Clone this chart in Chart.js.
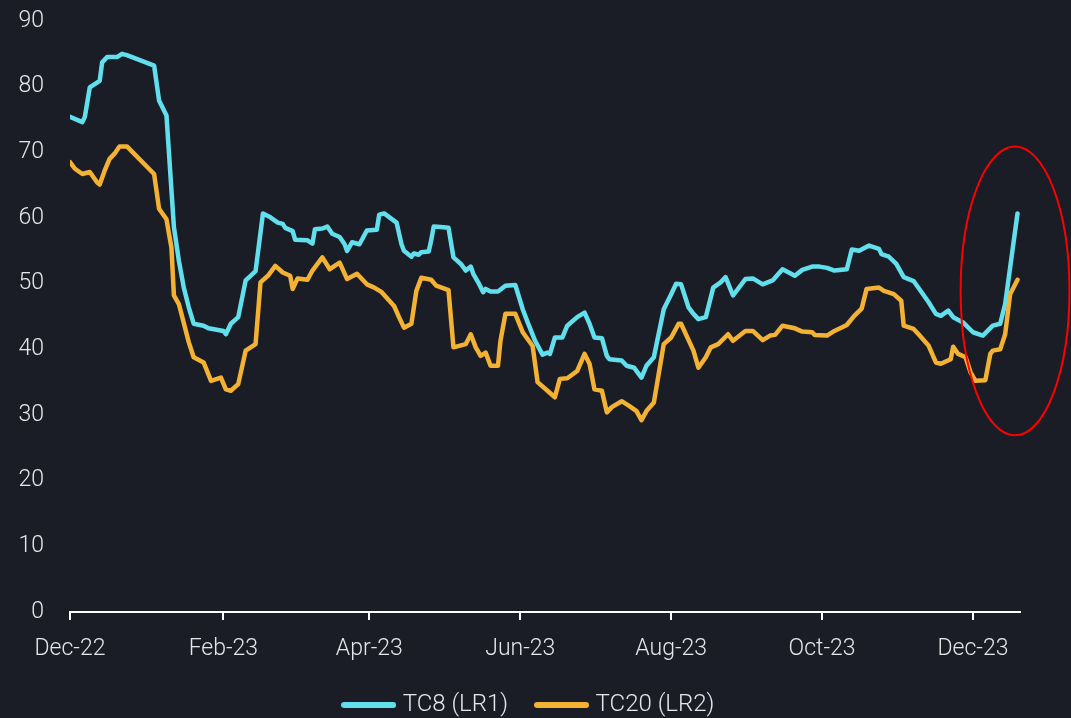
<!DOCTYPE html>
<html>
<head>
<meta charset="utf-8">
<script src="https://cdn.jsdelivr.net/npm/chart.js@4.4.1/dist/chart.umd.min.js"></script>
<style>
  html, body { margin: 0; padding: 0; background: #1a1d26; }
  #wrap { width: 1071px; height: 718px; position: relative; }
</style>
</head>
<body>
<div id="wrap"><canvas id="c" width="1071" height="718"></canvas></div>
<script>
// x values are days since 1 Dec 2022
const baseDate = '2022-12-01';
const xTickDates = ['2022-12-01','2023-02-01','2023-04-01','2023-06-01','2023-08-01','2023-10-01','2023-12-01'];
const xTickLabels = ['Dec-22','Feb-23','Apr-23','Jun-23','Aug-23','Oct-23','Dec-23'];
const yTicks = [0,10,20,30,40,50,60,70,80,90];
const seriesNames = ['TC8 (LR1)', 'TC20 (LR2)'];
const seriesColors = ['#62dfec', '#f4b234'];

const tc8Days = [0,5,6,8,12,13,15,19,21,23,34,36,39,42,44,46,48,50,54,56,62,63,65,68,71,73,75,78,81,84,86,87,90,91,96,98,99,102,104,106,109,111,112,114,117,120,124,125,127,132,134,135,138,139,141,142,145,146,147,151,153,155,158,160,162,163,165,167,168,170,173,176,180,183,185,188,191,193,194,196,199,201,205,208,210,212,215,217,218,223,225,228,230,231,233,236,240,243,245,247,250,252,254,257,260,263,265,268,273,276,280,284,288,293,296,300,303,306,309,314,316,319,323,327,328,331,334,337,341,347,350,352,355,357,361,365,369,373,376,378,383];
const tc8Values = [75.4,74.6,75.4,79.9,80.9,83.7,84.5,84.5,85.0,84.8,83.2,77.9,75.6,58.6,53.5,49.4,46.4,43.9,43.6,43.2,42.8,42.3,43.9,44.9,50.5,51.2,51.9,60.7,60.1,59.3,59.1,58.5,58.0,56.7,56.6,56.1,58.3,58.4,58.7,57.6,57.1,56.0,55.0,56.3,56.0,58.1,58.2,60.5,60.7,59.3,56.0,55.0,54.1,54.6,54.4,54.8,54.9,56.6,58.7,58.6,58.5,54.0,53.0,52.0,52.6,51.5,50.2,48.7,49.2,48.8,48.8,49.7,49.8,46.1,44.1,41.3,39.2,39.5,39.3,41.8,41.8,43.6,44.9,45.6,43.9,41.8,41.7,39.0,38.5,38.3,37.5,37.2,36.2,35.7,37.5,38.8,46.1,48.4,50.0,49.9,46.4,45.4,44.6,44.9,49.4,50.2,51.0,48.2,50.7,50.8,49.9,50.5,52.2,51.2,52.1,52.6,52.6,52.4,52.0,52.2,55.2,55.0,55.8,55.3,54.5,54.1,53.0,51.0,50.4,47.2,45.4,45.1,45.9,44.9,44.1,42.6,42.1,43.6,43.9,46.9,60.7];

const tc20Days = [0,2,5,8,11,12,14,16,18,20,23,34,36,39,41,42,44,48,50,54,57,61,63,65,68,71,75,77,80,83,86,89,90,92,96,98,102,105,109,112,116,120,123,126,131,133,135,138,140,142,146,148,153,155,160,162,164,166,168,170,173,174,176,180,183,187,189,193,196,198,201,205,208,210,212,215,217,219,223,226,229,231,233,236,240,243,246,247,252,254,257,259,262,266,268,273,276,280,283,285,288,293,296,300,301,306,309,314,317,320,322,327,329,333,336,337,341,343,347,350,352,356,357,359,362,364,366,370,372,373,376,378,380,383];
const tc20Values = [68.5,67.5,66.7,67.0,65.4,65.1,67.2,69.0,69.8,70.9,70.9,66.7,61.4,59.8,55.5,48.2,46.9,41.1,38.8,38.0,35.2,35.7,33.9,33.7,34.7,39.8,40.8,50.2,51.2,52.7,51.7,51.2,49.2,50.8,50.6,52.0,54.0,52.2,53.2,50.7,51.5,49.9,49.4,48.7,46.6,44.9,43.3,43.9,48.9,50.9,50.6,49.7,49.0,40.3,40.8,42.3,40.3,39.0,39.5,37.5,37.5,41.3,45.4,45.4,42.6,40.5,35.0,33.7,32.7,35.5,35.6,36.7,39.3,37.8,33.9,33.7,30.4,31.2,32.1,31.4,30.6,29.2,30.6,31.9,40.8,41.8,43.9,43.9,39.8,37.2,38.8,40.3,40.8,42.3,41.3,42.8,42.8,41.4,42.1,42.2,43.6,43.2,42.7,42.6,42.2,42.1,42.8,43.7,45.1,46.2,49.2,49.4,48.9,48.4,47.4,43.6,43.1,42.3,40.6,38.0,37.8,38.5,40.4,39.3,38.8,36.5,35.2,35.3,39.3,39.8,40.0,42.3,48.4,50.6];

// highlight ellipse (data units): centre day/value and radii
const highlight = { day: 382, value: 48.9, rDays: 22, rValue: 22 };

const dayOf = s => Math.round((Date.parse(s) - Date.parse(baseDate)) / 86400000);
const xTickDays = xTickDates.map(dayOf);
const toPts = (d, v) => d.map((x, i) => ({ x: x, y: v[i] }));

const textColor = '#e4e6ea';
const fontFamily = 'Roboto, "Noto Sans", sans-serif';

// legend swatch: a short thick rounded line
function swatch(color) {
  const c = document.createElement('canvas');
  c.width = 55; c.height = 6;
  const g = c.getContext('2d');
  g.fillStyle = color;
  g.beginPath();
  g.roundRect(0, 0, 55, 6, 3);
  g.fill();
  return c;
}
const swatches = seriesColors.map(swatch);

const ellipsePlugin = {
  id: 'ellipse',
  afterDraw(chart) {
    const xs = chart.scales.x, ys = chart.scales.y;
    const cx = xs.getPixelForValue(highlight.day);
    const cy = ys.getPixelForValue(highlight.value);
    const rx = Math.abs(xs.getPixelForValue(highlight.day + highlight.rDays) - cx);
    const ry = Math.abs(ys.getPixelForValue(highlight.value + highlight.rValue) - cy);
    const ctx = chart.ctx;
    ctx.save();
    ctx.strokeStyle = '#ff0000';
    ctx.lineWidth = 2;
    ctx.beginPath();
    ctx.ellipse(cx, cy, rx, ry, 0, 0, Math.PI * 2);
    ctx.stroke();
    ctx.restore();
  }
};

new Chart(document.getElementById('c'), {
  type: 'line',
  data: {
    datasets: [
      { label: seriesNames[0], data: toPts(tc8Days, tc8Values), borderColor: seriesColors[0], backgroundColor: seriesColors[0],
        borderWidth: 4.5, pointRadius: 0, tension: 0, borderJoinStyle: 'round', borderCapStyle: 'round', order: 2 },
      { label: seriesNames[1], data: toPts(tc20Days, tc20Values), borderColor: seriesColors[1], backgroundColor: seriesColors[1],
        borderWidth: 4.5, pointRadius: 0, tension: 0, borderJoinStyle: 'round', borderCapStyle: 'round', order: 1 }
    ]
  },
  options: {
    responsive: false,
    animation: false,
    layout: { padding: { top: 21, right: 10, left: 0, bottom: -9 } },
    scales: {
      x: {
        type: 'linear',
        min: 0, max: 384,
        afterBuildTicks: s => { s.ticks = xTickDays.map(v => ({ value: v })); },
        afterFit: s => { s.height = 49.5; },
        ticks: {
          autoSkip: false, maxRotation: 0, padding: 15,
          color: textColor, font: { family: fontFamily, size: 23, weight: 300 },
          callback: v => { const i = xTickDays.indexOf(v); return i >= 0 ? xTickLabels[i] : ''; }
        },
        grid: { display: true, drawOnChartArea: false, drawTicks: true, tickLength: 8, color: '#ffffff', lineWidth: 2 },
        border: { display: true, color: '#ffffff', width: 2 }
      },
      y: {
        min: 0, max: 90,
        afterBuildTicks: s => { s.ticks = yTicks.map(v => ({ value: v })); },
        afterFit: s => { s.width = 70; },
        ticks: { padding: 0, color: textColor, font: { family: fontFamily, size: 23, weight: 300 } },
        grid: { display: false, drawTicks: true, tickLength: 26 },
        border: { display: false }
      },
      yRight: {
        position: 'right',
        min: 0, max: 90,
        afterFit: s => { s.width = 41; },
        ticks: { display: false },
        grid: { display: false },
        border: { display: false }
      }
    },
    plugins: {
      legend: {
        position: 'bottom',
        labels: {
          color: textColor,
          font: { family: fontFamily, size: 24, weight: 300 },
          usePointStyle: true, pointStyleWidth: 44, boxHeight: 6, padding: 31.5,
          sort: (a, b) => a.datasetIndex - b.datasetIndex,
          generateLabels: chart => Chart.defaults.plugins.legend.labels.generateLabels(chart)
            .map(l => Object.assign(l, { pointStyle: swatches[l.datasetIndex], lineWidth: 0 }))
        }
      },
      tooltip: { enabled: false }
    }
  },
  plugins: [ellipsePlugin]
});
</script>
</body>
</html>
